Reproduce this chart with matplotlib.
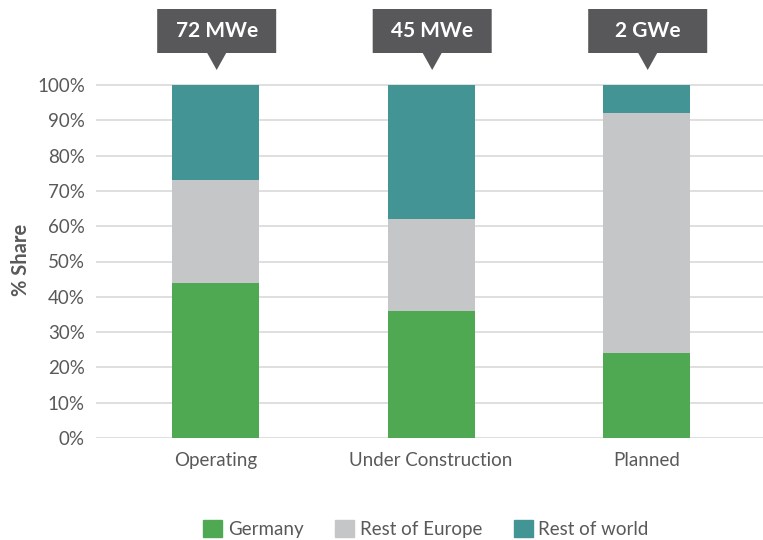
import matplotlib
matplotlib.use("Agg")

import matplotlib.pyplot as plt
from matplotlib.patches import Polygon, Patch
from matplotlib.transforms import blended_transform_factory


stages = ["Operating", "Under Construction", "Planned"]
capacity_labels = ["72 MWe", "45 MWe", "2 GWe"]
germany = [44, 36, 24]
rest_of_europe = [29, 26, 68]
rest_of_world = [27, 38, 8]
y_ticks = [0, 10, 20, 30, 40, 50, 60, 70, 80, 90, 100]

GREEN = "#4EA952"
GREY = "#C5C6C8"
TEAL = "#439494"
TEXT = "#595959"
CALLOUT = "#58585A"

plt.rcParams["font.family"] = ["Lato", "DejaVu Sans"]

W, H = 763, 540
fig = plt.figure(figsize=(W / 100, H / 100), dpi=100)
fig.patch.set_facecolor("white")

# axes placed so 0% sits at y=438px and 100% at y=85px
px_per_unit = (438 - 85) / 100
top_px = 85 - px_per_unit * 1.0
ax = fig.add_axes([96 / W, (H - 438) / H, (W - 96) / W, (438 - top_px) / H])

x = list(range(len(stages)))
bw = 0.404
ax.bar(x, germany, bw, color=GREEN, zorder=3, label="Germany")
bottom2 = germany
ax.bar(x, rest_of_europe, bw, bottom=bottom2, color=GREY, zorder=3, label="Rest of Europe")
bottom3 = [g + r for g, r in zip(germany, rest_of_europe)]
ax.bar(x, rest_of_world, bw, bottom=bottom3, color=TEAL, zorder=3, label="Rest of world")

ax.set_xlim(-0.555, 2.54)
ax.set_ylim(0, 101)
ax.set_yticks(y_ticks)
ax.set_yticklabels([f"{t}%" for t in y_ticks])
ax.set_xticks(x)
ax.set_xticklabels(stages)
ax.tick_params(axis="both", length=0, labelsize=13.5, labelcolor=TEXT)
ax.tick_params(axis="y", pad=8)
ax.tick_params(axis="x", pad=10)
ax.yaxis.grid(True, color="#D9D9D9", linewidth=1.2, zorder=0)
ax.set_axisbelow(True)
for s in ax.spines.values():
    s.set_visible(False)

ax.set_ylabel("% Share", fontsize=14.5, fontweight="bold", color=TEXT)
ax.yaxis.set_label_coords(-0.098, 0.5)

# capacity callouts above each bar
trans = blended_transform_factory(ax.transData, fig.transFigure)
half_w = 59.5 / 215.5
tri_w = 9.5 / 215.5
y_top = (H - 9) / H
y_bot = (H - 53) / H
y_tip = (H - 70) / H
for xi, lab in zip(x, capacity_labels):
    cx = xi + 0.005
    pts = [
        (cx - half_w, y_top), (cx + half_w, y_top), (cx + half_w, y_bot),
        (cx + tri_w, y_bot), (cx, y_tip), (cx - tri_w, y_bot),
        (cx - half_w, y_bot),
    ]
    ax.add_patch(Polygon(pts, closed=True, transform=trans, facecolor=CALLOUT,
                         edgecolor="none", clip_on=False))
    ax.text(cx, (y_top + y_bot) / 2, lab, transform=trans, ha="center",
            va="center", fontsize=15, fontweight="bold", color="white")

handles = [Patch(color=GREEN), Patch(color=GREY), Patch(color=TEAL)]
fig.legend(handles, ["Germany", "Rest of Europe", "Rest of world"],
           loc="center", bbox_to_anchor=(426 / W, 11 / H), ncol=3,
           frameon=False, fontsize=13.5, labelcolor=TEXT,
           handlelength=1.0, handleheight=1.0, handletextpad=0.3,
           columnspacing=1.7)

fig.savefig("out.png", dpi=100)
